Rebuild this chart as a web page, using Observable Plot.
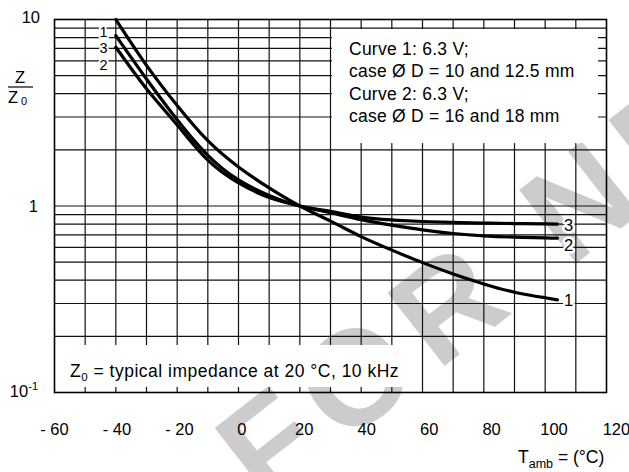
<!DOCTYPE html>
<html>
<head>
<meta charset="utf-8">
<script src="https://cdn.jsdelivr.net/npm/d3@7"></script>
<script src="https://cdn.jsdelivr.net/npm/@observablehq/plot@0.6"></script>
<style>
  html, body { margin: 0; padding: 0; background: white; }
  #chart svg { display: block; }
</style>
</head>
<body>
<div id="chart"></div>
<script>
// ---- data ----
const temps  = [-40, -30, -20, -10, 0, 10, 20, 30, 40, 50, 60, 70, 80, 90, 100, 104];
const curve1 = [10, 5.68, 3.46, 2.24, 1.62, 1.25, 1.0, 0.83, 0.685, 0.58, 0.497, 0.432, 0.382, 0.345, 0.322, 0.314];
const curve2 = [7.1, 4.25, 2.72, 1.76, 1.33, 1.11, 1.0, 0.92, 0.845, 0.79, 0.745, 0.712, 0.692, 0.681, 0.675, 0.672];
const curve3 = [8.2, 4.8, 2.9, 1.87, 1.38, 1.14, 1.0, 0.935, 0.872, 0.842, 0.826, 0.816, 0.81, 0.805, 0.802, 0.80];

const xTicks = [-60, -40, -20, 0, 20, 40, 60, 80, 100, 120];
const xTickLabels = ["- 60", "- 40", "- 20", "0", "20", "40", "60", "80", "100", "120"];
const xGrid = [-50, -40, -30, -20, -10, 0, 10, 20, 30, 40, 50, 60, 70, 80, 90, 100, 110];
const yGrid = [0.2, 0.3, 0.4, 0.5, 0.6, 0.7, 0.8, 0.9, 1, 2, 3, 4, 5, 6, 7, 8, 9];

const leftLabels = ["1", "3", "2"];
const leftLabelValues = [8.57, 6.99, 5.70];
const rightLabels = ["3", "2", "1"];
const rightLabelValues = [0.786, 0.614, 0.311];

// ---- build table ----
const rows = [];
[["1", curve1], ["2", curve2], ["3", curve3]].forEach(([name, vals]) => {
  temps.forEach((t, i) => rows.push({curve: name, t, v: vals[i]}));
});

const FONT = "'Liberation Sans', Arial, Helvetica, sans-serif";

const plot = Plot.plot({
  width: 629,
  height: 472,
  marginLeft: 54,
  marginRight: 23,
  marginTop: 19,
  marginBottom: 80,
  style: {fontFamily: FONT, background: "white", color: "black"},
  x: {domain: [-60, 120], axis: null},
  y: {type: "log", domain: [0.1, 10], axis: null},
  marks: [
    Plot.ruleX(xGrid, {stroke: "#111", strokeWidth: 1.2}),
    Plot.ruleY(yGrid, {stroke: "#111", strokeWidth: 1.2}),
    // white annotation boxes that hide the grid
    Plot.rect([0], {x1: 30.6, x2: 117.4, y1: 2.16, y2: 8.84, fill: "white"}),
    Plot.rect([0], {x1: -59.8, x2: 55, y1: 0.1064, y2: 0.1786, fill: "white"}),
    Plot.frame({stroke: "black", strokeWidth: 1.6}),
    Plot.line(rows, {x: "t", y: "v", z: "curve", curve: "natural", stroke: "black", strokeWidth: 3.2}),
    Plot.text(leftLabels, {x: -44, y: (d, i) => leftLabelValues[i], text: d => d, fontSize: 14.5,
      fill: "black", stroke: "white", strokeWidth: 4, paintOrder: "stroke"}),
    Plot.text(rightLabels, {x: 107.6, y: (d, i) => rightLabelValues[i], text: d => d, fontSize: 16.5,
      fill: "black", stroke: "white", strokeWidth: 5, paintOrder: "stroke"}),
    Plot.text(xTicks, {x: d => d + (d + 60) * 0.018, y: 0.1, dy: 37, text: (d, i) => xTickLabels[i],
      fontSize: 16.5, fill: "black"})
  ]
});

document.getElementById("chart").appendChild(plot);

// ---- annotations drawn with d3 ----
const svg = d3.select(plot);
const Y = v => plot.scale("y").apply(v);

// watermark (behind everything)
svg.insert("text", ":first-child")
  .attr("transform", "translate(236,470) rotate(-38)")
  .attr("font-family", FONT)
  .attr("font-weight", "bold")
  .attr("font-size", 135)
  .attr("letter-spacing", 16)
  .attr("text-anchor", "start")
  .attr("dominant-baseline", "central")
  .attr("fill", "#cccccc")
  .text("FOR NEW");

const g = svg.append("g").attr("font-family", FONT).attr("fill", "black").attr("text-anchor", "start");

// y tick labels
g.append("text").attr("x", 40).attr("y", Y(10) + 4).attr("text-anchor", "end").attr("font-size", 16.5).text("10");
g.append("text").attr("x", 38).attr("y", Y(1) + 6).attr("text-anchor", "end").attr("font-size", 16.5).text("1");
const t01 = g.append("text").attr("x", 38).attr("y", Y(0.1) + 5).attr("text-anchor", "end").attr("font-size", 16.5);
t01.append("tspan").text("10");
t01.append("tspan").attr("font-size", 11).attr("dy", -7).text("-1");

// Z / Z0 axis title
g.append("text").attr("x", 20).attr("y", 83).attr("text-anchor", "middle").attr("font-size", 16.5).text("Z");
g.append("line").attr("x1", 8).attr("x2", 33).attr("y1", 87).attr("y2", 87).attr("stroke", "black").attr("stroke-width", 1.2);
const z0 = g.append("text").attr("x", 8).attr("y", 103).attr("font-size", 16.5);
z0.append("tspan").text("Z");
z0.append("tspan").attr("font-size", 11).attr("dx", 3).attr("dy", 2).text("0");

// T_amb axis title
const ta = g.append("text").attr("x", 518).attr("y", 463).attr("font-size", 17.5);
ta.append("tspan").text("T");
ta.append("tspan").attr("font-size", 12.5).attr("dy", 5).text("amb");
ta.append("tspan").attr("dy", -5).text(" = (°C)");

// legend box text
const boxLines = ["Curve 1: 6.3 V;", "case Ø D = 10 and 12.5 mm", "Curve 2: 6.3 V;", "case Ø D = 16 and 18 mm"];
boxLines.forEach((s, i) => {
  g.append("text").attr("x", 349).attr("y", 55 + i * 22.4).attr("font-size", 17.5)
    .attr("letter-spacing", 0.25).text(s);
});

// footnote text
const fn = g.append("text").attr("x", 70).attr("y", 377).attr("font-size", 17.5).attr("letter-spacing", 0.5);
fn.append("tspan").text("Z");
fn.append("tspan").attr("font-size", 11.5).attr("dy", 4).text("0");
fn.append("tspan").attr("dy", -4).text(" = typical impedance at 20 °C, 10 kHz");
</script>
</body>
</html>
